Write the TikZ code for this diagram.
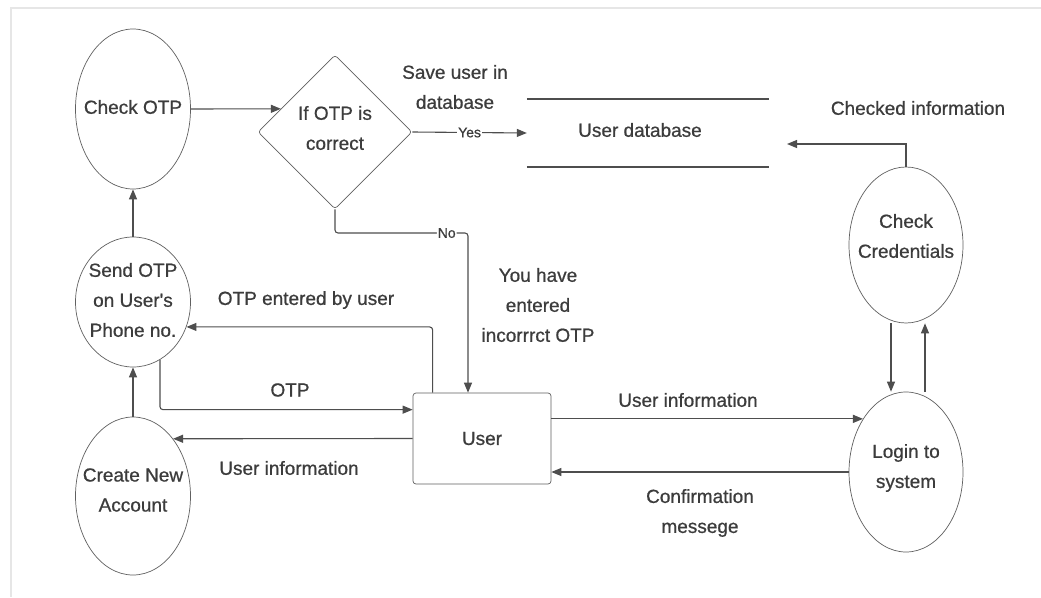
\documentclass[tikz,border=0pt]{standalone}
\usepackage{fontspec}
\setmainfont{Liberation Sans}[UprightFeatures={FakeBold=0.7}]
\newfontfamily\plainap{Liberation Sans}[UprightFeatures={FakeBold=0.7}]
\usetikzlibrary{shapes.geometric,arrows.meta,calc}
\definecolor{txt}{HTML}{3C3C3C}
\definecolor{ln}{HTML}{4E4E4E}
\definecolor{ell}{HTML}{606060}
\definecolor{frm}{HTML}{E6E6E6}
\begin{document}
\begin{tikzpicture}[x=1pt,y=-1pt,
  font=\fontsize{19}{30}\selectfont, text=txt,
  proc/.style={ellipse,draw=ell,line width=0.7pt,inner sep=0pt,minimum width=115pt},
  intxt/.style={align=center,text=txt,inner sep=0pt},
  lab/.style={align=center,text=txt,inner sep=1pt},
  small/.style={font=\fontsize{14}{16}\selectfont,fill=white,inner sep=1pt,text=txt},
  arr/.style={draw=ln,line width=1.1pt,-{Triangle[length=10pt,width=8pt]}},
  dbline/.style={draw=ln,line width=1.6pt}
]
\useasboundingbox (0,0) rectangle (1041,597);
\fill[white] (0,0) rectangle (1041,597);
\draw[frm,line width=1.5pt] (11,597) -- (11,8) -- (1041,8);

% process nodes
\node[proc,minimum height=160pt,label={[intxt,yshift=2pt]center:Check OTP}] (check) at (133,109) {};
\node[proc,minimum height=130pt,label={[intxt,yshift=2pt]center:Send OTP\\on User{\plainap'}s\\Phone no.}] (send) at (133,302) {};
\node[proc,minimum height=158pt,label={[intxt,yshift=6pt]center:Create New\\Account}] (create) at (133,496) {};
\node[proc,minimum width=114pt,minimum height=156pt,label={[intxt,yshift=9pt]center:Check\\Credentials}] (cc) at (906,245) {};
\node[proc,minimum width=114pt,minimum height=160pt,label={[intxt,yshift=4pt]center:Login to\\system}] (login) at (906,472) {};
\node[diamond,draw=ell,line width=0.7pt,minimum size=154pt,inner sep=0pt,rounded corners=3pt,
      label={[intxt,yshift=4pt]center:If OTP is\\correct}] (dia) at (335,132) {};
\node[draw=ell,line width=0.7pt,rounded corners=3pt,minimum width=138pt,minimum height=91pt,inner sep=0pt] (user) at (482,438.5) {User};
\node[minimum width=242pt,minimum height=68pt,inner sep=0pt] (db) at (648,133) {};
\node[intxt] (dbtxt) at (640,130) {User database};
\draw[dbline] (db.north west) -- (db.north east);
\draw[dbline] (db.south west) -- (db.south east);
\coordinate (dbr) at (787,144);
\coordinate (nc) at (468,233);

% connectors
\draw[arr] (send.north) -- (check.south);
\draw[arr] (create.north) -- (send.south);
\draw[arr] (check.east) -- ($(dia.west)!0.3!(dia.north)$);
\draw[arr] (dia.east) -- node[small,pos=0.5]{Yes} (db.west);
\draw[arr] (cc.north) |- (dbr);
\draw[arr,rounded corners=3pt] (dia.south) |- node[small,pos=0.92]{No} (nc) -- (nc |- user.north);
\draw[arr,rounded corners=3pt] ($(user.north west)+(20,0)$) |- (send.-25);
\draw[arr,rounded corners=3pt] (send.-65) |- ($(user.north west)+(0,17)$);
\draw[arr] (user.west) -- (create.55);
\draw[arr] (login.129 -| user.east) -- (login.129);
\draw[arr] (login.west) -- (login.west -| user.east);
\draw[arr] ([xshift=-15pt]cc.south) -- ([xshift=-15pt]login.north);
\draw[arr] ([xshift=19pt]login.north) -- ([xshift=19pt]cc.south);

% flow labels
\node[lab] (l1) at (455,87) {Save user in\\database};
\node[lab] (l2) at (918,108) {Checked information};
\node[lab] (l3) at (538,305) {You have\\entered\\incorrrct OTP};
\node[lab] (l4) at (306,300) {OTP entered by user};
\node[lab] (l5) at (290,390) {OTP};
\node[lab] (l6) at (289,468) {User information};
\node[lab] (l7) at (688,400) {User information};
\node[lab] (l8) at (700,513) {Confirmation\\messege};
\end{tikzpicture}
\end{document}
